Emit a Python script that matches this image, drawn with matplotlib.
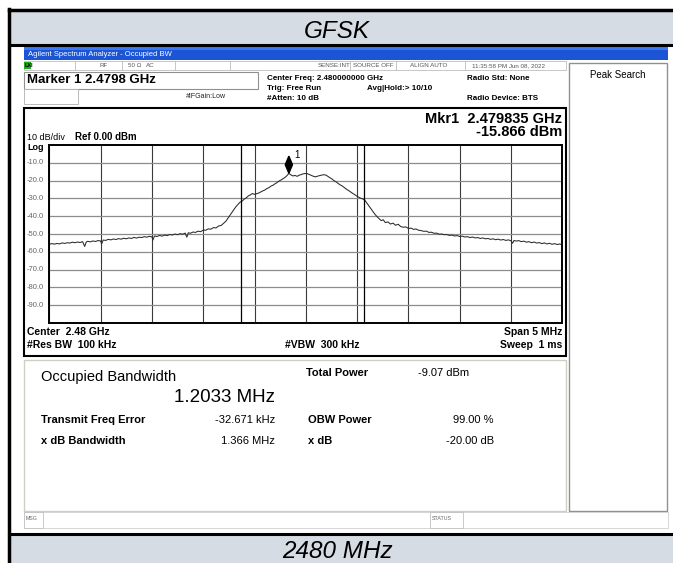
import numpy as np
import matplotlib.pyplot as plt
from matplotlib.patches import Rectangle, Polygon

# ---- data ----
center_mhz = 2480.0
span_mhz = 5.0
ref_dbm = 0.0
db_per_div = 10.0

trace_offset_mhz = [
    -2.500, -2.475, -2.450, -2.425, -2.400, -2.375, -2.350, -2.325, -2.300, -2.275,
    -2.250, -2.225, -2.200, -2.175, -2.155, -2.140, -2.125, -2.100, -2.075, -2.050,
    -2.025, -2.000, -1.990, -1.975, -1.950, -1.925, -1.900, -1.875, -1.850, -1.825,
    -1.800, -1.775, -1.750, -1.725, -1.700, -1.675, -1.650, -1.625, -1.600, -1.575,
    -1.550, -1.525, -1.500, -1.490, -1.475, -1.450, -1.425, -1.400, -1.375, -1.350,
    -1.325, -1.300, -1.275, -1.250, -1.225, -1.200, -1.175, -1.160, -1.145, -1.125,
    -1.100, -1.075, -1.050, -1.025, -1.000, -0.975, -0.950, -0.925, -0.900, -0.875,
    -0.850, -0.825, -0.800, -0.780, -0.760, -0.740, -0.720, -0.700, -0.680, -0.660,
    -0.640, -0.620, -0.600, -0.580, -0.560, -0.540, -0.520, -0.500, -0.480, -0.460,
    -0.440, -0.420, -0.400, -0.380, -0.360, -0.340, -0.320, -0.300, -0.280, -0.260,
    -0.240, -0.220, -0.200, -0.180, -0.165, -0.145, -0.125, -0.105, -0.085, -0.065,
    -0.045, -0.025, -0.005, 0.015, 0.035, 0.055, 0.075, 0.095, 0.115, 0.135,
    0.155, 0.175, 0.195, 0.215, 0.235, 0.255, 0.275, 0.295, 0.315, 0.335,
    0.355, 0.375, 0.395, 0.415, 0.435, 0.455, 0.475, 0.495, 0.515, 0.535,
    0.555, 0.575, 0.595, 0.615, 0.635, 0.655, 0.675, 0.695, 0.715, 0.735,
    0.755, 0.775, 0.800, 0.825, 0.850, 0.875, 0.900, 0.925, 0.950, 0.975,
    1.000, 1.025, 1.050, 1.075, 1.100, 1.125, 1.150, 1.175, 1.200, 1.225,
    1.250, 1.275, 1.300, 1.325, 1.350, 1.375, 1.400, 1.425, 1.450, 1.475,
    1.500, 1.525, 1.550, 1.575, 1.600, 1.625, 1.650, 1.675, 1.700, 1.725,
    1.750, 1.775, 1.800, 1.825, 1.850, 1.875, 1.900, 1.925, 1.950, 1.975,
    2.000, 2.015, 2.030, 2.050, 2.075, 2.100, 2.125, 2.150, 2.175, 2.200,
    2.225, 2.250, 2.275, 2.300, 2.325, 2.350, 2.375, 2.400, 2.425, 2.450,
    2.475, 2.500]
trace_dbm = [
    -55.8, -55.4, -55.7, -55.3, -55.6, -55.0, -55.3, -54.9, -55.1, -54.6,
    -54.9, -54.5, -54.8, -54.3, -57.0, -54.5, -54.1, -54.4, -53.9, -54.2,
    -53.7, -53.9, -55.6, -53.4, -53.6, -53.0, -53.3, -52.8, -53.1, -52.6,
    -52.9, -52.4, -52.7, -52.2, -52.5, -51.9, -52.3, -51.8, -52.0, -51.5,
    -51.8, -51.3, -51.6, -53.4, -51.1, -51.4, -50.8, -51.2, -50.6, -50.9,
    -50.3, -50.6, -50.0, -50.4, -49.8, -50.1, -49.5, -51.8, -49.3, -49.6,
    -48.9, -49.1, -48.4, -48.7, -47.8, -47.9, -47.1, -47.3, -46.4, -46.6,
    -45.5, -45.2, -43.9, -42.9, -41.2, -39.6, -37.8, -36.2, -34.6, -33.3,
    -32.1, -31.5, -30.4, -29.7, -28.6, -28.0, -27.3, -27.7, -27.4, -27.0,
    -26.4, -25.8, -25.3, -24.5, -24.0, -23.1, -22.6, -21.8, -21.1, -20.2,
    -19.6, -18.9, -18.1, -17.0, -15.9, -16.8, -17.4, -17.1, -17.6, -17.0,
    -16.6, -16.2, -16.0, -16.1, -16.6, -17.1, -17.6, -17.9, -17.5, -17.2,
    -16.9, -16.7, -16.9, -17.6, -18.4, -19.1, -20.0, -20.7, -21.6, -22.4,
    -23.0, -23.9, -24.8, -25.5, -26.3, -27.1, -27.8, -28.6, -29.3, -29.9,
    -30.3, -31.0, -32.6, -34.2, -35.8, -37.4, -39.0, -40.3, -41.4, -42.5,
    -42.0, -43.6, -43.2, -44.4, -43.9, -45.1, -44.5, -45.8, -46.2, -46.0,
    -46.9, -46.7, -47.4, -47.2, -47.9, -48.1, -48.5, -48.4, -49.1, -49.0,
    -49.6, -49.5, -50.1, -50.0, -50.4, -50.3, -50.8, -50.6, -51.1, -50.9,
    -51.4, -51.2, -51.7, -51.5, -52.0, -51.7, -52.2, -52.0, -52.5, -52.2,
    -52.7, -52.5, -53.0, -52.7, -53.2, -52.9, -53.4, -53.1, -53.6, -53.3,
    -53.8, -55.2, -53.6, -54.0, -53.7, -54.3, -54.0, -54.6, -54.3, -54.9,
    -54.5, -55.1, -54.8, -55.4, -55.0, -55.6, -55.2, -55.8, -55.4, -55.9,
    -55.6, -56.1]

marker_offset_mhz = -0.165
marker_dbm = -15.866
obw_mhz = 1.2033
freq_error_mhz = -0.032671
ytick_labels = ["-10.0", "-20.0", "-30.0", "-40.0", "-50.0", "-60.0", "-70.0", "-80.0", "-90.0"]

W, H = 673, 563
fig = plt.figure(figsize=(W / 100, H / 100), dpi=100)
fig.patch.set_facecolor("white")
plt.rcParams['font.family'] = ['Liberation Sans', 'DejaVu Sans']


def fx(x):
    return x / W


def fy(y):
    return 1 - y / H


def rect(x0, y0, x1, y1, fc="none", ec="none", lw=1.0, z=1):
    fig.patches.append(Rectangle((fx(x0), fy(y1)), (x1 - x0) / W, (y1 - y0) / H,
                                 transform=fig.transFigure, facecolor=fc, edgecolor=ec,
                                 linewidth=lw, zorder=z))


def txt(x, y, s, size=7, ha="left", va="center", **kw):
    fig.text(fx(x), fy(y), s, fontsize=size, ha=ha, va=va, zorder=10, **kw)


# caption bands
rect(9, 10, 673, 45, fc="#d6dce4")
rect(9, 535, 673, 563, fc="#d6dce4")
txt(337, 32, "GFSK", size=17.5, ha="center", style="italic")
txt(337, 551, "2480 MHz", size=17.5, ha="center", style="italic")
fig.add_artist(plt.Line2D([fx(9), fx(673)], [fy(10), fy(10)], color="black", lw=2.5))
fig.add_artist(plt.Line2D([fx(9), fx(673)], [fy(45), fy(45)], color="black", lw=2.2))
fig.add_artist(plt.Line2D([fx(9), fx(673)], [fy(534), fy(534)], color="black", lw=2.2))
fig.add_artist(plt.Line2D([fx(9), fx(9)], [fy(9), fy(563)], color="black", lw=2.5))

# analyzer window title bar
rect(24, 47, 668, 60, fc="#1b55d6")
rect(24, 47, 668, 50, fc="#3c78ee")
txt(28, 54, "Agilent Spectrum Analyzer - Occupied BW", size=5.5, color="white")

# status row
rect(24, 61, 566, 70, fc="white", ec="#b0b0b0", lw=0.5)
rect(24, 62, 31, 69, fc="#22aa22")
txt(25, 65.5, "LXI", size=4, color="black", weight="bold")
for xs, s in [(100, "RF"), (128, "50 Ω"), (146, "AC"), (318, "SENSE:INT"),
              (353, "SOURCE OFF"), (410, "ALIGN AUTO"), (472, "11:35:58 PM Jun 08, 2022")]:
    txt(xs, 65.5, s, size=4.5, color="#555555")
for xs in [75, 122, 175, 230, 350, 396, 465]:
    fig.add_artist(plt.Line2D([fx(xs), fx(xs)], [fy(61), fy(70)], color="#b0b0b0", lw=0.5))

# marker / settings area
rect(24, 72, 258, 89, fc="white", ec="#909090", lw=0.8)
rect(24, 89, 78, 104, fc="white", ec="#b0b0b0", lw=0.6)
txt(27, 80, "Marker 1 2.4798 GHz", size=9.5, weight="bold")
txt(186, 97, "#IFGain:Low", size=5, color="#222222")
txt(267, 78, "Center Freq: 2.480000000 GHz", size=5.8, weight="bold")
txt(267, 88, "Trig: Free Run", size=5.8, weight="bold")
txt(367, 88, "Avg|Hold:> 10/10", size=5.8, weight="bold")
txt(267, 98, "#Atten: 10 dB", size=5.8, weight="bold")
txt(467, 78, "Radio Std: None", size=5.8, weight="bold")
txt(467, 98, "Radio Device: BTS", size=5.8, weight="bold")

# right softkey panel
rect(569, 63, 667, 511, fc="white", ec="#909090", lw=1.0)
txt(618, 75, "Peak Search", size=7, ha="center")

# graph frame and readouts
rect(24, 108, 566, 356, fc="white", ec="black", lw=1.5)
txt(562, 119, "Mkr1  2.479835 GHz", size=10.5, ha="right", weight="bold")
txt(562, 132, "-15.866 dBm", size=10.5, ha="right", weight="bold")
txt(27, 138, "10 dB/div", size=6.5)
txt(75, 137, "Ref 0.00 dBm", size=7, weight="bold")
txt(27, 147, "Log", size=6.5, weight="bold")
txt(27, 332, "Center  2.48 GHz", size=7.5, weight="bold")
txt(27, 345, "#Res BW  100 kHz", size=7.5, weight="bold")
txt(285, 345, "#VBW  300 kHz", size=7.5, weight="bold")
txt(562, 332, "Span 5 MHz", size=7.5, ha="right", weight="bold")
txt(562, 345, "Sweep  1 ms", size=7.5, ha="right", weight="bold")

# trace axes
x0, y0, x1, y1 = 49.3, 145, 562.3, 323
ax = fig.add_axes([fx(x0), fy(y1), (x1 - x0) / W, (y1 - y0) / H])
ax.set_zorder(5)
ax.set_xlim(center_mhz - span_mhz / 2, center_mhz + span_mhz / 2)
ax.set_ylim(ref_dbm - 10 * db_per_div, ref_dbm)
ax.set_xticks(np.linspace(center_mhz - span_mhz / 2, center_mhz + span_mhz / 2, 11))
ax.set_yticks(np.arange(-90, 0, 10))
ax.grid(True, axis="y", color="#8c8c8c", lw=0.9)
ax.grid(True, axis="x", color="#3a3a3a", lw=0.8)
ax.tick_params(length=0, labelbottom=False, labelleft=False)
for sp in ax.spines.values():
    sp.set_linewidth(1.4)
    sp.set_color("black")

f = center_mhz + np.array(trace_offset_mhz)
ax.plot(f, trace_dbm, color="#2a2a2a", lw=0.75)

obw_center = center_mhz + freq_error_mhz
for edge in (obw_center - obw_mhz / 2, obw_center + obw_mhz / 2):
    ax.axvline(edge, color="black", lw=0.9)

mx = center_mhz + marker_offset_mhz
ax.add_patch(Polygon([(mx, marker_dbm), (mx + 0.035, marker_dbm + 4.8),
                      (mx, marker_dbm + 9.6), (mx - 0.035, marker_dbm + 4.8)],
                     closed=True, color="black", zorder=5))
ax.text(mx + 0.05, marker_dbm + 10.5, "1", fontsize=7, va="center")

for i, lab in enumerate(ytick_labels):
    txt(27, y0 + (i + 1) * (y1 - y0) / 10, lab, size=5.5, color="#666666")

# results panel
rect(24, 360, 566, 511, fc="white", ec="#d0cec0", lw=1.0)
txt(41, 377, "Occupied Bandwidth", size=10.5)
txt(275, 398, "1.2033 MHz", size=13.5, ha="right")
txt(306, 373, "Total Power", size=8, weight="bold")
txt(418, 373, "-9.07 dBm", size=8)
txt(41, 420, "Transmit Freq Error", size=8, weight="bold")
txt(275, 420, "-32.671 kHz", size=8, ha="right")
txt(308, 420, "OBW Power", size=8, weight="bold")
txt(494, 420, "99.00 %", size=8, ha="right")
txt(41, 441, "x dB Bandwidth", size=8, weight="bold")
txt(275, 441, "1.366 MHz", size=8, ha="right")
txt(308, 441, "x dB", size=8, weight="bold")
txt(494, 441, "-20.00 dB", size=8, ha="right")

# message bar
rect(24, 512, 668, 528, fc="white", ec="#d0d0d0", lw=0.6)
rect(24, 512, 43, 528, fc="white", ec="#c0c0c0", lw=0.6)
rect(430, 512, 463, 528, fc="white", ec="#c0c0c0", lw=0.6)
txt(26, 519, "MSG", size=3.8, color="#666666")
txt(432, 519, "STATUS", size=3.8, color="#666666")

fig.savefig("out.png", dpi=100)
